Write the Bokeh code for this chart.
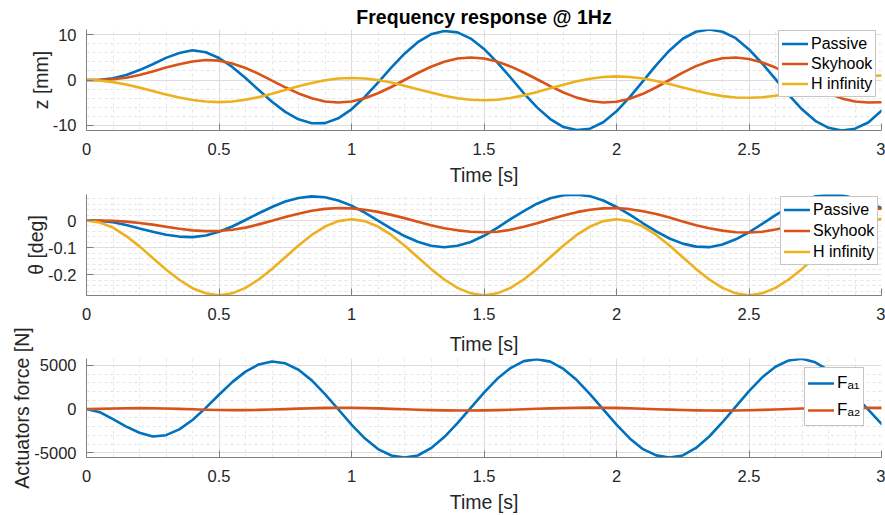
from bokeh.plotting import figure
from bokeh.layouts import column
from bokeh.models import Range1d, FixedTicker, NumeralTickFormatter, Legend, LegendItem
from bokeh.embed import file_html
from bokeh.resources import INLINE

# ---------------- data ----------------
t = [0.0, 0.05, 0.1, 0.15, 0.2, 0.25, 0.3, 0.35, 0.4, 0.45,
     0.5, 0.55, 0.6, 0.65, 0.7, 0.75, 0.8, 0.85, 0.9, 0.95,
     1.0, 1.05, 1.1, 1.15, 1.2, 1.25, 1.3, 1.35, 1.4, 1.45,
     1.5, 1.55, 1.6, 1.65, 1.7, 1.75, 1.8, 1.85, 1.9, 1.95,
     2.0, 2.05, 2.1, 2.15, 2.2, 2.25, 2.3, 2.35, 2.4, 2.45,
     2.5, 2.55, 2.6, 2.65, 2.7, 2.75, 2.8, 2.85, 2.9, 2.95, 3.0]

z_passive = [0, 0.05, 0.4, 1.1, 2.2, 3.5, 4.9, 6.0, 6.6, 6.16,
             4.88, 2.9, 0.45, -2.22, -4.82, -7.07, -8.71, -9.59, -9.57, -8.5,
             -6.5, -3.76, -0.56, 2.75, 5.84, 8.39, 10.13, 10.88, 10.56, 9.19,
             6.89, 3.92, 0.55, -2.9, -6.07, -8.66, -10.43, -11.1, -10.8, -9.37,
             -6.95, -3.8, -0.26, 3.31, 6.56, 9.15, 10.7, 11.2, 10.7, 9.27,
             6.78, 3.66, 0.18, -3.32, -6.5, -9.05, -10.6, -11.2, -10.8, -9.42, -6.8]
z_skyhook = [0, 0.02, 0.15, 0.5, 1.1, 1.9, 2.75, 3.5, 4.1, 4.42,
             4.29, 3.68, 2.67, 1.36, -0.12, -1.62, -2.98, -4.06, -4.76, -5.0,
             -4.76, -4.05, -2.94, -1.55, 0.0, 1.55, 2.94, 4.05, 4.76, 5.0,
             4.76, 4.08, 3.01, 1.67, 0.16, -1.37, -2.78, -3.91, -4.66, -4.99,
             -4.83, -4.15, -3.06, -1.61, 0.0, 1.63, 3.08, 4.15, 4.83, 4.99,
             4.66, 3.89, 2.76, 1.37, -0.16, -1.67, -3.01, -4.08, -4.76, -5.0, -4.95]
z_hinf = [0, -0.12, -0.47, -1.01, -1.69, -2.45, -3.21, -3.89, -4.43, -4.78,
          -4.9, -4.77, -4.39, -3.8, -3.05, -2.23, -1.4, -0.65, -0.06, 0.32,
          0.45, 0.33, -0.02, -0.57, -1.26, -2.03, -2.79, -3.48, -4.03, -4.38,
          -4.5, -4.37, -3.99, -3.41, -2.67, -1.85, -1.03, -0.29, 0.29, 0.67,
          0.8, 0.68, 0.33, -0.22, -0.9, -1.65, -2.39, -3.06, -3.57, -3.87,
          -3.95, -3.83, -3.48, -2.93, -2.24, -1.48, -0.71, -0.02, 0.53, 0.88, 1.0]

th_passive = [0, -0.001, -0.006, -0.016, -0.029, -0.041, -0.052, -0.059, -0.061, -0.055,
              -0.041, -0.022, 0.002, 0.027, 0.05, 0.07, 0.083, 0.089, 0.086, 0.074,
              0.055, 0.029, 0.0, -0.03, -0.057, -0.078, -0.093, -0.098, -0.093, -0.079,
              -0.056, -0.027, 0.005, 0.035, 0.062, 0.082, 0.093, 0.095, 0.09, 0.074,
              0.05, 0.022, -0.01, -0.04, -0.066, -0.085, -0.096, -0.098, -0.088, -0.069,
              -0.043, -0.012, 0.02, 0.049, 0.073, 0.089, 0.095, 0.093, 0.082, 0.062, 0.047]
th_skyhook = [0, 0.0, -0.001, -0.004, -0.009, -0.015, -0.023, -0.03, -0.036, -0.039,
              -0.0385, -0.034, -0.026, -0.014, -0.001, 0.013, 0.025, 0.036, 0.043, 0.046,
              0.045, 0.04, 0.032, 0.021, 0.009, -0.004, -0.017, -0.028, -0.036, -0.041,
              -0.043, -0.041, -0.034, -0.023, -0.01, 0.005, 0.019, 0.031, 0.04, 0.045,
              0.046, 0.042, 0.034, 0.024, 0.011, -0.003, -0.017, -0.028, -0.037, -0.043,
              -0.044, -0.041, -0.033, -0.023, -0.009, 0.005, 0.019, 0.03, 0.039, 0.044, 0.044]
th_hinf = [0, -0.007, -0.026, -0.057, -0.095, -0.138, -0.18, -0.218, -0.249, -0.268,
           -0.275, -0.268, -0.248, -0.217, -0.178, -0.135, -0.092, -0.053, -0.022, -0.002,
           0.005, -0.002, -0.022, -0.053, -0.092, -0.135, -0.178, -0.217, -0.248, -0.268,
           -0.275, -0.268, -0.248, -0.217, -0.178, -0.135, -0.092, -0.053, -0.022, -0.002,
           0.005, -0.002, -0.022, -0.053, -0.092, -0.135, -0.178, -0.217, -0.248, -0.268,
           -0.275, -0.268, -0.248, -0.217, -0.178, -0.135, -0.092, -0.053, -0.022, -0.002, 0.006]

fa1 = [0, -350, -1150, -2000, -2700, -3130, -2980, -2320, -1240, 140,
       1640, 3080, 4280, 5100, 5430, 5230, 4490, 3280, 1720, -20,
       -1770, -3340, -4570, -5300, -5520, -5300, -4470, -3200, -1600, 140,
       1890, 3460, 4690, 5480, 5700, 5420, 4590, 3320, 1720, -40,
       -1780, -3350, -4580, -5290, -5530, -5300, -4440, -3130, -1500, 290,
       2060, 3630, 4840, 5560, 5750, 5350, 4440, 3110, 1500, -60, -1700]
fa2 = [0, 30, 70, 100, 115, 105, 75, 30, -20, -70,
       -105, -120, -115, -90, -50, 0, 50, 100, 135, 150,
       145, 120, 80, 30, -25, -75, -120, -145, -160, -160,
       -145, -115, -70, -20, 35, 85, 125, 155, 165, 160,
       135, 95, 45, -10, -65, -110, -145, -165, -170, -160,
       -130, -90, -40, 15, 70, 115, 150, 170, 170, 160, 140]

x_ticks = [0, 0.5, 1, 1.5, 2, 2.5, 3]
x_minor = [0.1, 0.2, 0.3, 0.4, 0.6, 0.7, 0.8, 0.9, 1.1, 1.2, 1.3, 1.4, 1.6, 1.7, 1.8, 1.9,
           2.1, 2.2, 2.3, 2.4, 2.6, 2.7, 2.8, 2.9]
z_ticks = [-10, 0, 10]
z_minor = [-8, -6, -4, -2, 2, 4, 6, 8]
th_ticks = [-0.2, -0.1, 0]
th_minor = [-0.26, -0.24, -0.22, -0.18, -0.16, -0.14, -0.12, -0.08, -0.06, -0.04, -0.02, 0.02, 0.04, 0.06, 0.08]
f_ticks = [-5000, 0, 5000]
f_minor = [-4000, -3000, -2000, -1000, 1000, 2000, 3000, 4000]

labels_z = ["Passive", "Skyhook", "H infinity"]
labels_f = ["F\u2090\u2081", "F\u2090\u2082"]

# ---------------- styling ----------------
BLUE, ORANGE, YELLOW = "#0072BD", "#D95319", "#EDB120"
FONT = "Liberation Sans"
TXT = "#262626"
AX = "#808080"
LW = 2.6


def make_fig(h, top, bottom, yr, yticks, yminor, ylabel, xlabel):
    p = figure(width=885, height=h, x_range=Range1d(0, 3), y_range=Range1d(*yr),
               output_backend="svg", toolbar_location=None,
               min_border_left=86, min_border_right=4,
               min_border_top=top, min_border_bottom=bottom)
    p.outline_line_color = None
    p.background_fill_color = "white"
    p.border_fill_color = "white"
    xt = FixedTicker(ticks=x_ticks, minor_ticks=x_minor)
    yt = FixedTicker(ticks=yticks, minor_ticks=yminor)
    p.xaxis.ticker = xt
    p.yaxis.ticker = yt
    p.xgrid.ticker = xt
    p.ygrid.ticker = yt
    for g in (p.xgrid[0], p.ygrid[0]):
        g.grid_line_color = "#dddddd"
        g.grid_line_width = 1
        g.minor_grid_line_color = "#e6e6e6"
        g.minor_grid_line_dash = "3 3"
    for ax in (p.xaxis[0], p.yaxis[0]):
        ax.formatter = NumeralTickFormatter(format="0.[0]")
        ax.axis_line_color = AX
        ax.major_tick_line_color = AX
        ax.major_tick_in = 7
        ax.major_tick_out = 0
        ax.minor_tick_line_color = None
        ax.major_label_text_font = FONT
        ax.major_label_text_font_size = "16.5px"
        ax.major_label_text_color = TXT
        ax.axis_label_text_font = FONT
        ax.axis_label_text_font_size = "19.5px"
        ax.axis_label_text_color = TXT
        ax.axis_label_text_font_style = "normal"
    p.xaxis.major_label_standoff = 8
    p.yaxis.major_label_standoff = 6
    if xlabel:
        p.xaxis.axis_label = "Time [s]"
        p.xaxis.axis_label_standoff = 6
    p.yaxis.axis_label = ylabel
    p.yaxis.axis_label_standoff = -2
    return p


def make_legend(items, loc, lh, sp):
    return Legend(items=items, location=loc, orientation="vertical",
                  label_text_font=FONT, label_text_font_size="16px", label_text_color="black",
                  glyph_width=26, glyph_height=lh, label_height=lh, label_standoff=3,
                  spacing=sp, padding=3, margin=0,
                  border_line_color="#8c8c8c", border_line_width=1,
                  background_fill_color="white", background_fill_alpha=1)


def add_line(p, y, color):
    return p.line(t, y, line_color=color, line_width=LW, line_join="round", line_cap="round")


# ---- subplot 1 ----
p1 = make_fig(188, 29, 56, (-11.2, 11.2), z_ticks, z_minor, "z [mm]", True)
p1.title.text = "Frequency response @ 1Hz"
p1.title.align = "center"
p1.title.text_font = FONT
p1.title.text_font_size = "19.5px"
p1.title.text_font_style = "bold"
p1.title.text_color = "black"
p1.title.standoff = 3
r11 = add_line(p1, z_passive, BLUE)
r12 = add_line(p1, z_skyhook, ORANGE)
r13 = add_line(p1, z_hinf, YELLOW)
p1.add_layout(make_legend([LegendItem(label=labels_z[0], renderers=[r11]),
                           LegendItem(label=labels_z[1], renderers=[r12]),
                           LegendItem(label=labels_z[2], renderers=[r13])], (692, 33), 19, 1))

# ---- subplot 2 ----
p2 = make_fig(139, 6, 32, (-0.276, 0.096), th_ticks, th_minor, "θ [deg]", False)
r21 = add_line(p2, th_passive, BLUE)
r22 = add_line(p2, th_skyhook, ORANGE)
r23 = add_line(p2, th_hinf, YELLOW)
p2.add_layout(make_legend([LegendItem(label=labels_z[0], renderers=[r21]),
                           LegendItem(label=labels_z[1], renderers=[r22]),
                           LegendItem(label=labels_z[2], renderers=[r23])], (694, 30), 19, 2))

# ---- subplot 3 ----
p3 = make_fig(188, 30, 56, (-5530, 5780), f_ticks, f_minor, "Actuators force [N]", True)
p3.title.text = "Time [s]"
p3.title.align = "center"
p3.title.text_font = FONT
p3.title.text_font_size = "19.5px"
p3.title.text_font_style = "normal"
p3.title.text_color = TXT
p3.title.standoff = 7
r31 = add_line(p3, fa1, BLUE)
r32 = add_line(p3, fa2, ORANGE)
leg3 = make_legend([LegendItem(label=labels_f[0], renderers=[r31]),
                    LegendItem(label=labels_f[1], renderers=[r32])], (718, 31), 24, 3)
leg3.label_text_font_size = "17px"
p3.add_layout(leg3)

layout = column(p1, p2, p3, spacing=0)
open("out.html", "w").write(file_html(layout, INLINE))
